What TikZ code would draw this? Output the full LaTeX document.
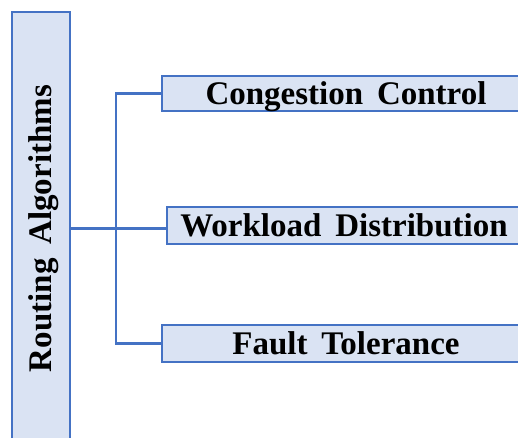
\documentclass[tikz,border=0pt]{standalone}
\usepackage{fontspec}
\setmainfont{Liberation Serif}
\definecolor{edgeblue}{HTML}{4472C4}
\definecolor{boxfill}{HTML}{DAE3F3}
\newcommand\wordsp{\spaceskip 0.42em plus 0.1em\relax}
\newcommand\capheightbox[1]{\raisebox{0pt}[0.66em][0pt]{#1}}
\begin{document}
\begin{tikzpicture}[x=1pt,y=-1pt,
  catbox/.style={draw=edgeblue,fill=boxfill,line width=2.4pt,rectangle,inner sep=0pt,
    font=\fontsize{33}{36}\selectfont\bfseries\wordsp},
  subbox/.style={catbox,text height=21.8pt,text depth=0pt},
  conn/.style={draw=edgeblue,line width=2.2pt}]
\useasboundingbox (0,0) rectangle (518,437);
\clip (0,0) rectangle (518,437);
\node[catbox,minimum width=58pt,minimum height=433pt] (ra) at (41,228.5)
  {\rotatebox{90}{\capheightbox{Routing Algorithms}}};
\node[subbox,minimum width=368pt,minimum height=35pt] (cc) at (346,93.5) {Congestion Control};
\node[subbox,minimum width=354pt,minimum height=37pt] (wd) at (344,225.5) {Workload Distribution};
\node[subbox,minimum width=368pt,minimum height=37pt] (ft) at (346,343.5) {Fault Tolerance};
\coordinate (j) at (116,228.5);
\draw[conn] (cc.west) -| (j) |- (ft.west);
\draw[conn] (ra.east) -- (ra.east -| wd.west);
\end{tikzpicture}
\end{document}
